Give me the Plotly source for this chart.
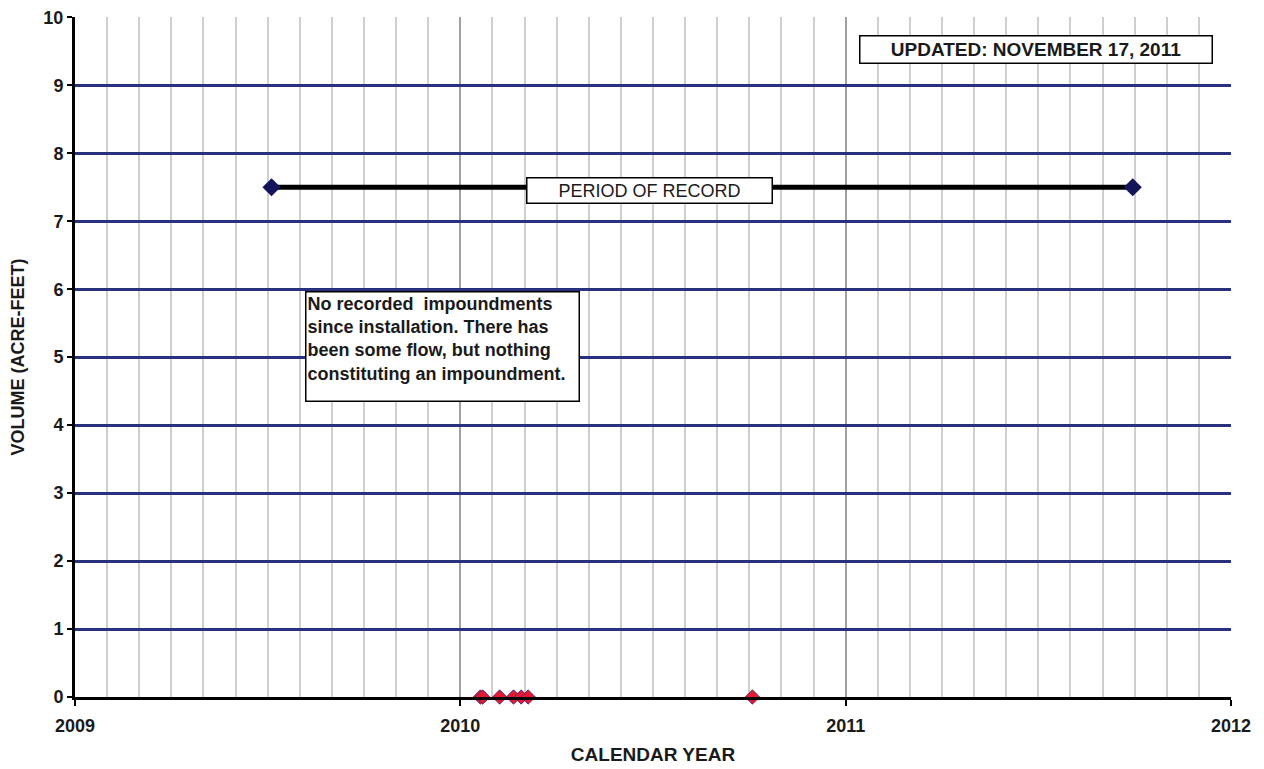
import plotly.graph_objects as go

# Data
period_x = [2009.51, 2011.745]
period_y = [7.5, 7.5]
flow_x = [2010.052, 2010.058, 2010.102, 2010.138, 2010.158, 2010.176, 2010.758]
flow_y = [0, 0, 0, 0, 0, 0, 0]
x_ticks = [2009, 2010, 2011, 2012]
y_ticks = list(range(0, 11))

FONT = "Liberation Sans"

fig = go.Figure()

fig.add_trace(go.Scatter(
    x=period_x, y=period_y, mode="lines+markers",
    line=dict(color="black", width=5),
    marker=dict(symbol="diamond", size=14, color="#14145a"),
    showlegend=False, hoverinfo="skip"))

fig.add_trace(go.Scatter(
    x=flow_x, y=flow_y, mode="markers",
    marker=dict(symbol="diamond", size=11, color="#e8192c",
                line=dict(color="#5a2a7a", width=1)),
    showlegend=False, cliponaxis=False))

fig.update_layout(
    width=1264, height=769,
    margin=dict(l=67, r=41, t=9, b=80),
    paper_bgcolor="white", plot_bgcolor="white",
    font=dict(family=FONT, color="#1a1a1a"),
    xaxis=dict(
        range=[2009, 2012], tickvals=x_ticks, ticktext=[str(v) for v in x_ticks],
        showgrid=True, gridcolor="#a0a0a0", gridwidth=2,
        minor=dict(dtick=1/12, showgrid=True, gridcolor="#cfcfcf", gridwidth=1.5),
        showline=True, linecolor="black", linewidth=3,
        ticks="outside", ticklen=6, tickwidth=2, tickcolor="black",
        ticklabelstandoff=4, ticklabeloverflow="allow",
        tickfont=dict(family=FONT, size=18, color="#1a1a1a", weight="bold"),
        title=dict(text="<b>CALENDAR YEAR</b>", font=dict(family=FONT, size=19), standoff=14),
        automargin=False, zeroline=False, fixedrange=True),
    yaxis=dict(
        range=[0, 10.005], tickvals=y_ticks,
        showgrid=True, gridcolor="#283080", gridwidth=2.5,
        showline=True, linecolor="black", linewidth=3,
        ticks="outside", ticklen=5, tickwidth=2, tickcolor="black",
        ticklabeloverflow="allow",
        tickfont=dict(family=FONT, size=18, color="#1a1a1a", weight="bold"),
        title=dict(text="<b>VOLUME (ACRE-FEET)</b>", font=dict(family=FONT, size=18), standoff=24),
        automargin=False, zeroline=False, fixedrange=True),
)

box = dict(bordercolor="black", borderwidth=1.5, bgcolor="white", showarrow=False)

fig.add_annotation(x=2011.495, y=9.52, xref="x", yref="y", text="<b>UPDATED: NOVEMBER 17, 2011</b>",
                   xanchor="center", yanchor="middle", width=349, height=24,
                   font=dict(family=FONT, size=19, color="#1a1a1a"), **box)
fig.add_annotation(x=2010.49, y=7.45, xref="x", yref="y", text="PERIOD OF RECORD",
                   xanchor="center", yanchor="middle", width=242, height=22,
                   font=dict(family=FONT, size=18, color="#1a1a1a"), **box)
fig.add_annotation(x=2009.597, y=5.98, xref="x", yref="y",
                   text="<b>No recorded  impoundments<br>since installation. There has<br>been some flow, but nothing<br>constituting an impoundment.</b>",
                   xanchor="left", yanchor="top", align="left", valign="top",
                   width=270, height=106, borderpad=1,
                   font=dict(family=FONT, size=18, color="#1a1a1a"), **box)

fig.write_html("out.html")
